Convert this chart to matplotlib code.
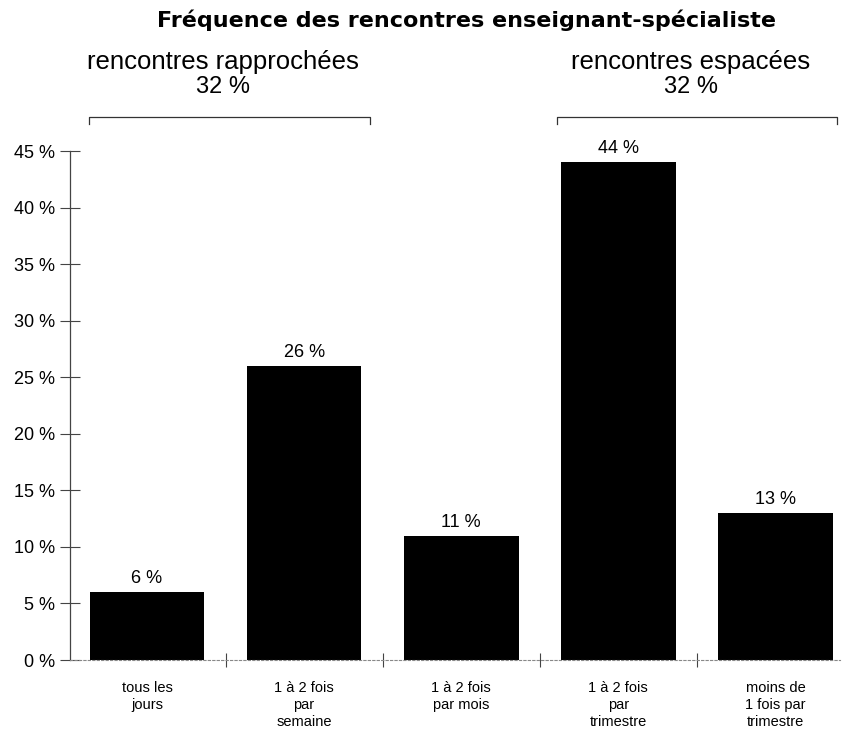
import numpy as np
import matplotlib
matplotlib.use('Agg')
import matplotlib.pyplot as plt
from matplotlib.transforms import blended_transform_factory

plt.rcParams['font.family'] = ['Liberation Sans', 'DejaVu Sans']

categories = ['tous les\njours', '1 à 2 fois\npar\nsemaine', '1 à 2 fois\npar mois',
              '1 à 2 fois\npar\ntrimestre', 'moins de\n1 fois par\ntrimestre']
values = [6, 26, 11, 44, 13]
group_names = ['rencontres rapprochées', 'rencontres espacées']
group_totals = [32, 32]
yticks = [0, 5, 10, 15, 20, 25, 30, 35, 40, 45]

fig = plt.figure(figsize=(8.46, 7.35), dpi=100)
ax = fig.add_axes([0.0827, 0.102, 0.910, 0.6925])

x = np.arange(len(values))
ax.bar(x, values, width=0.73, color='black', zorder=1)
for xi, v in zip(x, values):
    ax.text(xi, v + 0.45, f'{v} %', ha='center', va='bottom', fontsize=13)

ax.set_ylim(0, 45)
ax.set_xlim(-0.49, 4.41)
ax.set_yticks(yticks)
ax.set_yticklabels([f'{t} %' for t in yticks], fontsize=13)
ax.tick_params(axis='y', direction='inout', length=14, width=0.8, color='#444444', pad=4)

ax.set_xticks(x)
ax.set_xticklabels(categories, fontsize=10.5, linespacing=1.3)
ax.tick_params(axis='x', length=0, pad=15)
# small marks between categories on the baseline
ax.set_xticks(x[:-1] + 0.5, minor=True)
ax.tick_params(axis='x', which='minor', direction='inout', length=10, width=0.8, color='#444444')

for s in ['top', 'right']:
    ax.spines[s].set_visible(False)
ax.spines['left'].set_color('#444444')
ax.spines['left'].set_linewidth(0.9)
ax.spines['bottom'].set_color('#888888')
ax.spines['bottom'].set_linewidth(0.8)
ax.spines['bottom'].set_linestyle((0, (2, 2)))

fig.text(0.551, 0.973, 'Fréquence des rencontres enseignant-spécialiste',
         ha='center', va='center', fontsize=16, fontweight='bold', family='DejaVu Sans')

# group brackets above the bars
tr = blended_transform_factory(ax.transData, fig.transFigure)
brackets = [(-0.37, 1.42), (2.61, 4.39)]
for (x0, x1), name, total in zip(brackets, group_names, group_totals):
    y_line = 1 - 117 / 735
    y_end = 1 - 124 / 735
    ax.plot([x0, x0, x1, x1], [y_end, y_line, y_line, y_end], transform=tr,
            color='#333333', lw=0.9, clip_on=False)
    xc = (x0 + x1) / 2 - 0.04
    ax.text(xc, 1 - 62 / 735, name, transform=tr, ha='center', va='center', fontsize=18.5)
    ax.text(xc, 1 - 87 / 735, f'{total} %', transform=tr, ha='center', va='center', fontsize=17)

fig.savefig('out.png', dpi=100)
